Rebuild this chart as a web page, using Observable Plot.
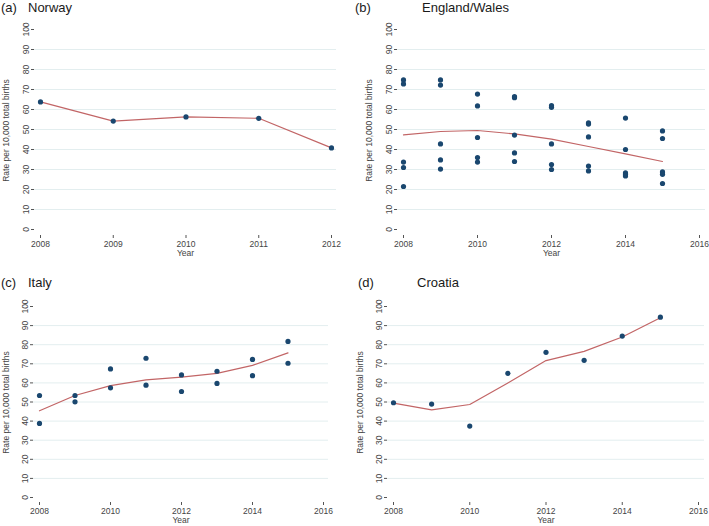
<!DOCTYPE html>
<html><head><meta charset="utf-8">
<script src="https://cdn.jsdelivr.net/npm/d3@7"></script>
<script src="https://cdn.jsdelivr.net/npm/@observablehq/plot@0.6"></script>
<style>
body{margin:0;background:#fff;font-family:"Liberation Sans",Arial,sans-serif;}
#root{position:relative;width:709px;height:526px;overflow:hidden;background:#fff}
.panel{position:absolute}
.panel svg{overflow:visible;display:block}
.title{position:absolute;font-size:13px;line-height:15px;color:#1a1a1a;white-space:pre}
</style></head><body><div id="root"></div>
<script>
// ---- data ----
const norwayYears = [2008, 2009, 2010, 2011, 2012];
const norwayRates = [63.8, 54.2, 56.3, 55.6, 40.8];

const ewYears = [2008,2008,2008,2008,2008, 2009,2009,2009,2009,2009, 2010,2010,2010,2010,2010,
                 2011,2011,2011,2011,2011, 2012,2012,2012,2012,2012, 2013,2013,2013,2013,2013,
                 2014,2014,2014,2014,2014, 2015,2015,2015,2015,2015];
const ewRates = [74.8,72.8,33.7,31.0,21.5, 74.8,72.2,42.8,34.8,30.2, 67.7,61.8,46.0,36.0,33.7,
                 66.4,65.9,47.2,38.3,34.0, 61.9,61.1,42.8,32.5,30.0, 53.3,52.7,46.3,31.7,29.3,
                 55.7,40.0,28.3,27.5,26.8, 49.3,45.5,28.8,27.6,23.0];
const ewFitYears = [2008, 2009, 2010, 2011, 2012, 2013, 2014, 2015];
const ewFit = [47.3, 49.0, 49.5, 47.8, 45.2, 41.5, 37.8, 34.0];

const itYears = [2008,2008,2009,2009,2010,2010,2011,2011,2012,2012,2013,2013,2014,2014,2015,2015];
const itRates = [53.4,38.8,53.4,50.1,67.3,57.4,72.9,58.8,64.2,55.5,66.1,59.7,72.3,63.8,81.7,70.3];
const itFitYears = [2008, 2009, 2010, 2011, 2012, 2013, 2014, 2015];
const itFit = [45.4, 53.4, 58.6, 61.6, 63.0, 65.0, 69.2, 75.7];

const hrYears = [2008, 2009, 2010, 2011, 2012, 2013, 2014, 2015];
const hrRates = [49.6, 48.9, 37.4, 65.0, 76.0, 71.8, 84.5, 94.4];
const hrFit = [49.4, 45.9, 48.7, 60.0, 71.7, 76.5, 84.0, 94.1];

const yTicks = [0, 10, 20, 30, 40, 50, 60, 70, 80, 90, 100];
const yGrid = [10, 20, 30, 40, 50, 60, 70, 80, 90];
const xTicksA = [2008, 2009, 2010, 2011, 2012];
const xTicksB = [2008, 2010, 2012, 2014, 2016];
const yLabel = "Rate per 10,000 total births";
const xLabel = "Year";
const titles = [["(a)", "Norway"], ["(b)", "England/Wales"], ["(c)", "Italy"], ["(d)", "Croatia"]];

// ---- build ----
const root = document.getElementById("root");
const zip = (xs, ys) => xs.map((x, i) => ({x, y: ys[i]}));

function panel(cfg) {
  const chart = Plot.plot({
    width: cfg.w, height: cfg.h,
    marginLeft: cfg.ml, marginRight: cfg.mr, marginTop: cfg.mt, marginBottom: cfg.mb,
    insetLeft: cfg.il, insetRight: cfg.ir, insetTop: cfg.it, insetBottom: cfg.ib,
    style: {fontFamily: "'Liberation Sans', Arial, sans-serif", fontSize: "8.5px", color: "#333", background: "transparent", overflow: "visible"},
    x: {domain: cfg.xDomain},
    y: {domain: [0, 100]},
    marks: [
      Plot.gridY(yGrid, {stroke: "#e3eeef", strokeOpacity: 1, strokeWidth: 1}),
      Plot.axisY(yTicks, {tickSize: 3, tickFormat: () => "", line: true, label: null, stroke: "#555"}),
      Plot.text(yTicks, {y: d => d, text: d => String(d), frameAnchor: "left", dx: -6, rotate: -90,
                         textAnchor: "middle", lineAnchor: "bottom", fill: "#444", fontSize: 8.5}),
      Plot.axisX(cfg.xTicks, {tickSize: 3, tickPadding: 2, tickFormat: d => String(d), line: true, label: null,
                              stroke: "#555", fill: "#444"}),
      Plot.line(cfg.line, {x: "x", y: "y", stroke: "#c26566", strokeWidth: 1.2}),
      Plot.dot(cfg.points, {x: "x", y: "y", r: 2.6, fill: "#1a476f", stroke: "none"}),
      Plot.text([yLabel], {frameAnchor: "left", dx: cfg.ylx, rotate: -90, textAnchor: "middle", lineAnchor: "middle",
                           fill: "#444", fontSize: 8.5}),
      Plot.text([xLabel], {frameAnchor: "bottom", dy: cfg.xly, textAnchor: "middle", lineAnchor: "middle",
                           fill: "#444", fontSize: 8.5})
    ]
  });
  const div = document.createElement("div");
  div.className = "panel";
  div.style.left = cfg.left + "px";
  div.style.top = cfg.top + "px";
  div.appendChild(chart);
  root.appendChild(div);

  const t1 = document.createElement("div");
  t1.className = "title";
  t1.textContent = cfg.title[0];
  t1.style.left = cfg.tx1 + "px"; t1.style.top = cfg.ty + "px";
  root.appendChild(t1);
  const t2 = document.createElement("div");
  t2.className = "title";
  t2.textContent = cfg.title[1];
  t2.style.left = cfg.tx2 + "px"; t2.style.top = cfg.ty + "px";
  root.appendChild(t2);
}

panel({left: 0, top: 0, w: 354, h: 263, ml: 34, mr: 18, mt: 25, mb: 28, il: 6, ir: 5, it: 4, ib: 6,
       xDomain: [2008, 2012], xTicks: xTicksA, points: zip(norwayYears, norwayRates), line: zip(norwayYears, norwayRates),
       ylx: -28, xly: 18, title: titles[0], tx1: 1, tx2: 28, ty: 0});
panel({left: 354, top: 0, w: 355, h: 263, ml: 43, mr: 4, mt: 25, mb: 28, il: 6, ir: 6, it: 4, ib: 6,
       xDomain: [2008, 2016], xTicks: xTicksB, points: zip(ewYears, ewRates), line: zip(ewFitYears, ewFit),
       ylx: -28, xly: 18, title: titles[1], tx1: 355, tx2: 422, ty: 0});
panel({left: 0, top: 263, w: 354, h: 263, ml: 33, mr: 26, mt: 39, mb: 24, il: 6, ir: 5, it: 4, ib: 5,
       xDomain: [2008, 2016], xTicks: xTicksB, points: zip(itYears, itRates), line: zip(itFitYears, itFit),
       ylx: -27, xly: 18, title: titles[2], tx1: 1, tx2: 28, ty: 275});
panel({left: 354, top: 263, w: 355, h: 263, ml: 33, mr: 5, mt: 39, mb: 24, il: 6, ir: 6, it: 4, ib: 5,
       xDomain: [2008, 2016], xTicks: xTicksB, points: zip(hrYears, hrRates), line: zip(hrYears, hrFit),
       ylx: -27, xly: 18, title: titles[3], tx1: 358, tx2: 417, ty: 275});
</script>
</body></html>
